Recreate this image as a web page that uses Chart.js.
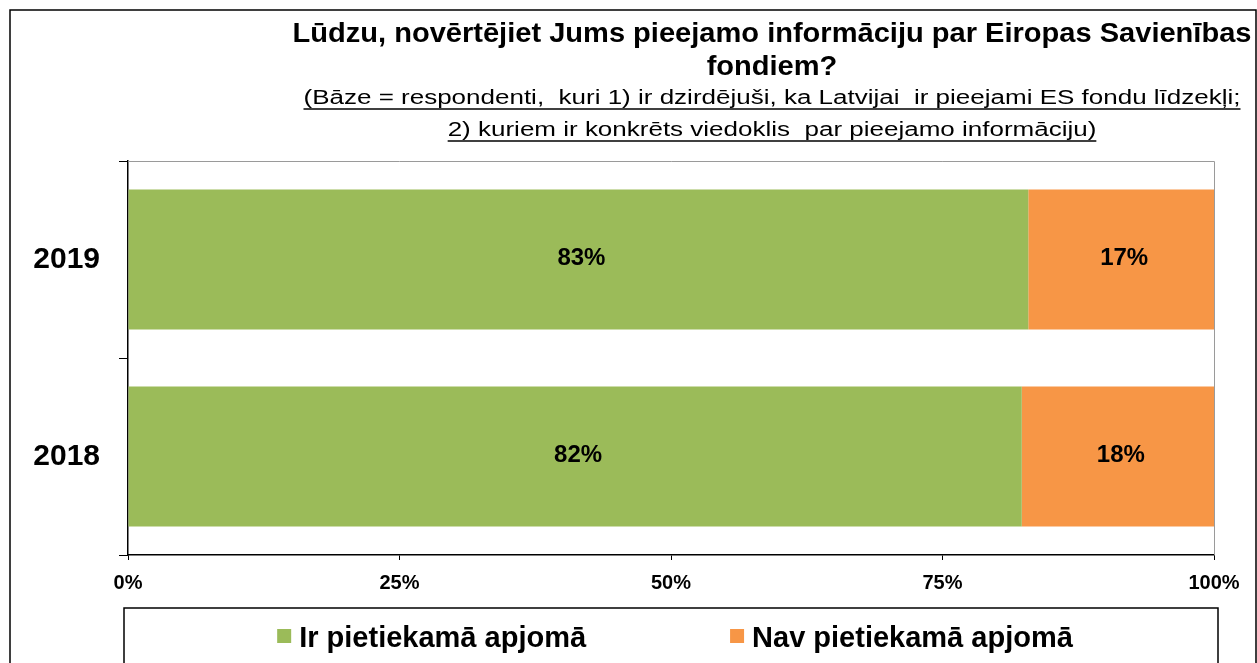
<!DOCTYPE html>
<html>
<head>
<meta charset="utf-8">
<script src="https://cdn.jsdelivr.net/npm/chart.js@4.4.1/dist/chart.umd.min.js"></script>
<style>
  html, body { margin: 0; padding: 0; background: #ffffff; }
  canvas { display: block; }
</style>
</head>
<body>
<canvas id="c" width="1257" height="663"></canvas>
<script>
// ---- data ----
const categories = ['2019', '2018'];
const seriesNames = ['Ir pietiekamā apjomā', 'Nav pietiekamā apjomā'];
const sufficient = [82.9, 82.3];
const insufficient = [17.1, 17.7];
const xTickValues = [0, 25, 50, 75, 100];
const titleLines = [
  'Lūdzu, novērtējiet Jums pieejamo informāciju par Eiropas Savienības',
  'fondiem?'
];
const subtitleLines = [
  '(Bāze = respondenti,  kuri 1) ir dzirdējuši, ka Latvijai  ir pieejami ES fondu līdzekļi;',
  '2) kuriem ir konkrēts viedoklis  par pieejamo informāciju)'
];
const seriesColors = ['#9BBB59', '#F79646'];

const FONT = '"Liberation Sans", Arial, sans-serif';

function fitText(ctx, text, cx, y, scale) {
  ctx.save();
  ctx.translate(cx, y);
  ctx.scale(scale, 1);
  ctx.fillText(text, 0, 0);
  ctx.restore();
}

const decorPlugin = {
  id: 'decor',
  afterDraw(chart) {
    const ctx = chart.ctx;
    const ca = chart.chartArea;
    ctx.save();
    // outer frame
    ctx.strokeStyle = '#000';
    ctx.lineWidth = 1.5;
    ctx.beginPath();
    ctx.moveTo(10, 700); ctx.lineTo(10, 10); ctx.lineTo(1256, 10); ctx.lineTo(1256, 700);
    ctx.stroke();

    // plot area top/right border
    ctx.strokeStyle = '#9a9a9a';
    ctx.lineWidth = 1;
    ctx.beginPath();
    ctx.moveTo(ca.left, ca.top + 0.5);
    ctx.lineTo(ca.right + 0.5, ca.top + 0.5);
    ctx.lineTo(ca.right + 0.5, ca.bottom);
    ctx.stroke();

    // title
    const cx = 772;
    ctx.fillStyle = '#000';
    ctx.textAlign = 'center';
    ctx.textBaseline = 'alphabetic';
    ctx.font = 'bold 27px ' + FONT;
    const w1 = ctx.measureText(titleLines[0]).width;
    const s1 = 959 / w1;
    fitText(ctx, titleLines[0], cx, 42, s1);
    fitText(ctx, titleLines[1], cx, 75, s1);

    // subtitle, underlined
    ctx.font = '20px ' + FONT;
    const ws = ctx.measureText(subtitleLines[0]).width;
    const s2 = 937 / ws;
    const subY = [104, 136];
    subtitleLines.forEach((t, i) => {
      fitText(ctx, t, cx, subY[i], s2);
      const w = ctx.measureText(t).width * s2;
      ctx.strokeStyle = '#000';
      ctx.lineWidth = 1.3;
      ctx.beginPath();
      ctx.moveTo(cx - w / 2, subY[i] + 5);
      ctx.lineTo(cx + w / 2, subY[i] + 5);
      ctx.stroke();
    });

    // legend box
    ctx.strokeStyle = '#000';
    ctx.lineWidth = 1.5;
    ctx.beginPath();
    ctx.moveTo(124, 700); ctx.lineTo(124, 608); ctx.lineTo(1218, 608); ctx.lineTo(1218, 700);
    ctx.stroke();

    // legend items
    ctx.font = 'bold 29px ' + FONT;
    ctx.textAlign = 'left';
    const box = 14, gapIn = 8, gapOut = 144;
    const items = chart.data.datasets.map(ds => ({
      label: ds.label, color: ds.backgroundColor,
      w: box + gapIn + ctx.measureText(ds.label).width
    }));
    const total = items.reduce((a, it) => a + it.w, 0) + gapOut * (items.length - 1);
    let x = 675 - total / 2;
    items.forEach(it => {
      ctx.fillStyle = it.color;
      ctx.fillRect(x, 629, box, box);
      ctx.fillStyle = '#000';
      ctx.fillText(it.label, x + box + gapIn, 647);
      x += it.w + gapOut;
    });

    ctx.restore();
  },
  afterDatasetsDraw(chart) {
    const ctx = chart.ctx;
    ctx.save();
    ctx.font = 'bold 24px ' + FONT;
    ctx.fillStyle = '#000';
    ctx.textAlign = 'center';
    ctx.textBaseline = 'middle';
    chart.data.datasets.forEach((ds, di) => {
      const meta = chart.getDatasetMeta(di);
      meta.data.forEach((el, i) => {
        const p = el.getProps(['x', 'y', 'base'], true);
        const v = ds.data[i];
        ctx.fillText(Math.round(v) + '%', (p.x + p.base) / 2 + 3, p.y - 1);
      });
    });
    ctx.restore();
  }
};

new Chart(document.getElementById('c'), {
  type: 'bar',
  data: {
    labels: categories,
    datasets: [
      { label: seriesNames[0], data: sufficient, backgroundColor: seriesColors[0], borderWidth: 0 },
      { label: seriesNames[1], data: insufficient, backgroundColor: seriesColors[1], borderWidth: 0 }
    ]
  },
  options: {
    indexAxis: 'y',
    responsive: false,
    devicePixelRatio: 1,
    animation: false,
    barPercentage: 0.71,
    categoryPercentage: 1,
    layout: { padding: { top: 161, left: 10, right: 43, bottom: 68 } },
    plugins: {
      legend: { display: false },
      title: { display: false },
      tooltip: { enabled: false }
    },
    scales: {
      x: {
        stacked: true,
        min: 0,
        max: 100,
        afterBuildTicks(scale) { scale.ticks = xTickValues.map(v => ({ value: v })); },
        afterFit(scale) { scale.height = 40; },
        ticks: {
          callback: v => v + '%',
          color: '#000',
          font: { family: FONT, size: 20, weight: 'bold' },
          padding: 11,
          maxRotation: 0
        },
        grid: { drawOnChartArea: false, tickLength: 5, color: '#000', tickWidth: 1 },
        border: { color: '#000', width: 1.5 }
      },
      y: {
        stacked: true,
        afterFit(scale) { scale.width = 118; },
        ticks: {
          color: '#000',
          font: { family: FONT, size: 30, weight: 'bold' },
          padding: 19
        },
        grid: { drawOnChartArea: false, offset: true, tickLength: 9, color: '#000', tickWidth: 1 },
        border: { color: '#000', width: 1.5 }
      }
    }
  },
  plugins: [decorPlugin]
});
</script>
</body>
</html>
